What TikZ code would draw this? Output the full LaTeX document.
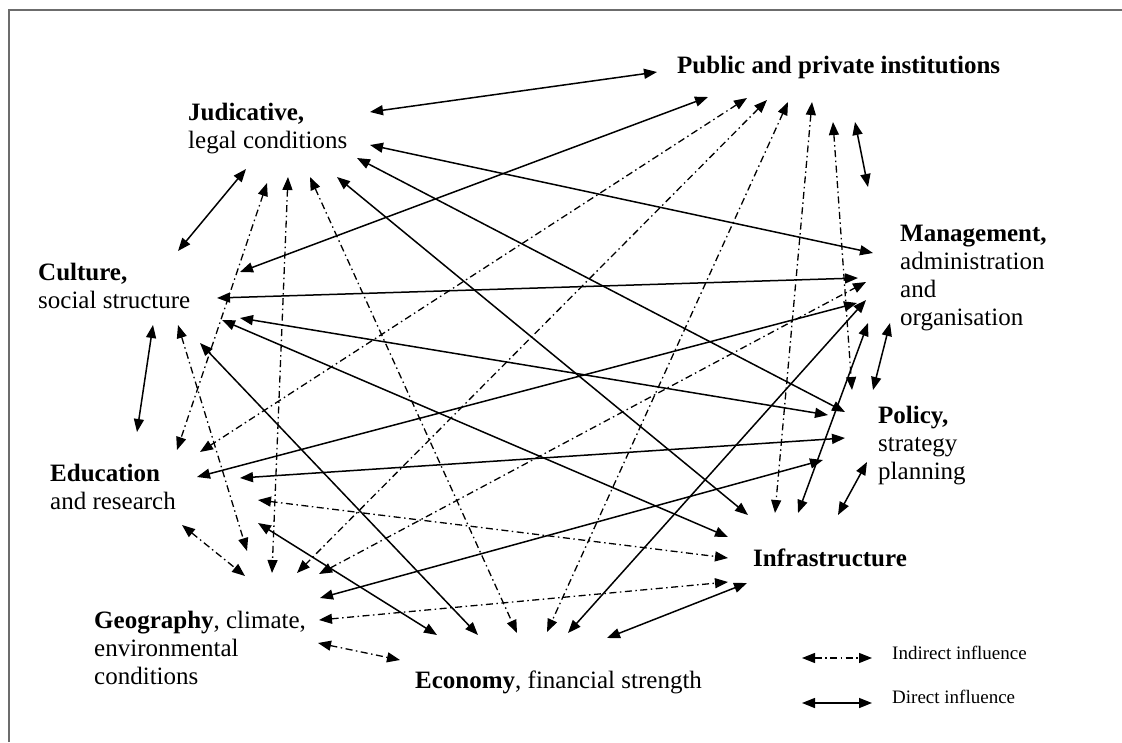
\documentclass[tikz,border=0pt]{standalone}
\usepackage{fontspec}
\setmainfont{Liberation Serif}
\usetikzlibrary{arrows.meta}
\tikzset{
  lbl/.style={font=\fontsize{25}{28}\selectfont, inner sep=0pt, anchor=base west, align=left},
  leg/.style={font=\fontsize{19}{22}\selectfont, inner sep=0pt, anchor=base west},
  tipboth/.style={arrows={Triangle[length=13pt,width=10pt]-Triangle[length=13pt,width=10pt]}},
  dlink/.style={tipboth, line width=1.5pt, black},
  ilink/.style={tipboth, line width=1.3pt, black, dash pattern=on 7pt off 3.5pt on 1.5pt off 3.5pt},
  frameline/.style={line width=2.2pt, gray!85!black}
}
\begin{document}
\begin{tikzpicture}[x=1pt,y=-1pt]
\useasboundingbox (0,0) rectangle (1122,742);
\fill[white] (0,0) rectangle (1122,742);
\draw[frameline] (9,742) -- (9,10) -- (1122,10);

% labels (anchor = baseline of the last line)
\node[lbl] (P) at (677,73) {\textbf{Public and private institutions}};
\node[lbl] (J) at (188,148) {\textbf{Judicative,}\\legal conditions};
\node[lbl] (M) at (900,325) {\textbf{Management,}\\administration\\and\\organisation};
\node[lbl] (Cul) at (38,308) {\textbf{Culture,}\\social structure};
\node[lbl] (Pol) at (878,479) {\textbf{Policy,}\\strategy\\planning};
\node[lbl] (Edu) at (50,509) {\textbf{Education}\\and research};
\node[lbl] (Inf) at (753,566) {\textbf{Infrastructure}};
\node[lbl] (Geo) at (94,684) {\textbf{Geography}, climate,\\environmental\\conditions};
\node[lbl] (Eco) at (415,688) {\textbf{Economy}, financial strength};

% arrow end points
% Judicative
\coordinate (j1) at (370,112); \coordinate (j2) at (370,145);
\coordinate (j3) at (357,158); \coordinate (j4) at (337,177);
\coordinate (j5) at (310,177); \coordinate (j6) at (288,177);
\coordinate (j7) at (267,183); \coordinate (j8) at (246,169);
% Public
\coordinate (p1) at (657,72);  \coordinate (p2) at (708,97);
\coordinate (p3) at (747,98);  \coordinate (p4) at (767,100);
\coordinate (p5) at (788,102); \coordinate (p6) at (812,102);
\coordinate (p7) at (833,122); \coordinate (p8) at (855,122);
% Management
\coordinate (m1) at (868,187); \coordinate (m2) at (873,253);
\coordinate (m3) at (858,278); \coordinate (m4) at (866,282);
\coordinate (m5) at (857,303); \coordinate (m6) at (866,300);
\coordinate (m7) at (868,323); \coordinate (m8) at (890,323);
% Policy
\coordinate (q1) at (852,390); \coordinate (q2) at (873,390);
\coordinate (q3) at (828,415); \coordinate (q4) at (845,412);
\coordinate (q5) at (845,438); \coordinate (q6) at (823,460);
\coordinate (q7) at (867,462);
% Infrastructure
\coordinate (i1) at (748,515); \coordinate (i2) at (775,513);
\coordinate (i3) at (798,513); \coordinate (i4) at (838,515);
\coordinate (i5) at (728,537); \coordinate (i6) at (728,558);
\coordinate (i7) at (728,582); \coordinate (i8) at (747,583);
% Economy
\coordinate (e1) at (400,660); \coordinate (e2) at (437,635);
\coordinate (e3) at (478,635); \coordinate (e4) at (517,633);
\coordinate (e5) at (547,632); \coordinate (e6) at (568,633);
\coordinate (e7) at (607,638);
% Geography
\coordinate (g1) at (247,551); \coordinate (g2) at (245,576);
\coordinate (g3) at (272,573); \coordinate (g4) at (297,573);
\coordinate (g5) at (319,574); \coordinate (g6) at (320,598);
\coordinate (g7) at (319,620); \coordinate (g8) at (318,643);
% Education
\coordinate (d1) at (137,432); \coordinate (d2) at (177,450);
\coordinate (d3) at (200,452); \coordinate (d4) at (197,477);
\coordinate (d5) at (240,478); \coordinate (d6) at (258,500);
\coordinate (d7) at (258,523); \coordinate (d8) at (182,525);
% Culture
\coordinate (c1) at (178,251); \coordinate (c2) at (240,272);
\coordinate (c3) at (217,298); \coordinate (c4) at (222,320);
\coordinate (c5) at (240,318); \coordinate (c6) at (200,343);
\coordinate (c7) at (178,325); \coordinate (c8) at (153,325);

% direct influences
\draw[dlink] (j1) -- (p1);
\draw[dlink] (j2) -- (m2);
\draw[dlink] (j3) -- (q4);
\draw[dlink] (j4) -- (i1);
\draw[dlink] (j8) -- (c1);
\draw[dlink] (p2) -- (c2);
\draw[dlink] (p8) -- (m1);
\draw[dlink] (c3) -- (m3);
\draw[dlink] (c5) -- (q3);
\draw[dlink] (c4) -- (i5);
\draw[dlink] (c6) -- (e3);
\draw[dlink] (c8) -- (d1);
\draw[dlink] (d4) -- (m5);
\draw[dlink] (d5) -- (q5);
\draw[dlink] (d7) -- (e2);
\draw[dlink] (g6) -- (q6);
\draw[dlink] (e6) -- (m6);
\draw[dlink] (e7) -- (i8);
\draw[dlink] (i3) -- (m7);
\draw[dlink] (i4) -- (q7);
\draw[dlink] (q2) -- (m8);

% indirect influences
\draw[ilink] (j5) -- (e4);
\draw[ilink] (j6) -- (g3);
\draw[ilink] (j7) -- (d2);
\draw[ilink] (p3) -- (d3);
\draw[ilink] (p4) -- (g4);
\draw[ilink] (p5) -- (e5);
\draw[ilink] (p6) -- (i2);
\draw[ilink] (p7) -- (q1);
\draw[ilink] (c7) -- (g1);
\draw[ilink] (d6) -- (i6);
\draw[ilink] (d8) -- (g2);
\draw[ilink] (g5) -- (m4);
\draw[ilink] (g7) -- (i7);
\draw[ilink] (g8) -- (e1);

% legend
\coordinate (la1) at (802,658); \coordinate (la2) at (872,658);
\coordinate (lb1) at (802,703); \coordinate (lb2) at (872,703);
\draw[ilink] (la1) -- (la2);
\draw[dlink] (lb1) -- (lb2);
\node[leg] (LI) at (892,659) {Indirect influence};
\node[leg] (LD) at (892,703) {Direct influence};
\end{tikzpicture}
\end{document}
